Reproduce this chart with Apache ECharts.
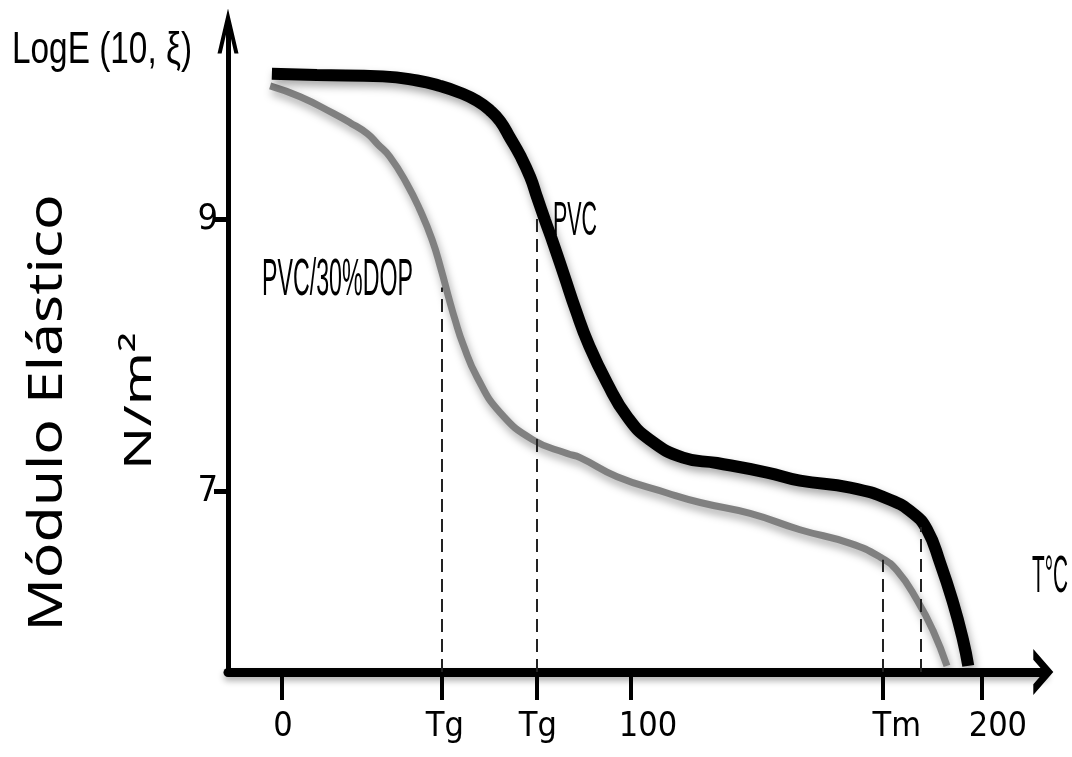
<!DOCTYPE html>
<html>
<head>
<meta charset="utf-8">
<script src="https://cdn.jsdelivr.net/npm/echarts@6/dist/echarts.min.js"></script>
<style>
  html, body { margin: 0; padding: 0; background: #fff; }
  #container { width: 1072px; height: 757px; }
</style>
</head>
<body>
<div id="container"></div>
<script>
// curve samples: [T, log E]
const pvc = [
  [-2.9, 10.07], [10, 10.06], [28.9, 10.05], [38.7, 10.02], [45.3, 9.98], [51, 9.93],
  [55.9, 9.87], [59.6, 9.8], [62.5, 9.72], [65.3, 9.6], [68.2, 9.47], [71.1, 9.31],
  [73.1, 9.16], [75.4, 8.99], [77.9, 8.81], [80.8, 8.59], [84.2, 8.33], [87.7, 8.09],
  [93.1, 7.8], [98.9, 7.55], [105.4, 7.38], [114.9, 7.25], [124.6, 7.21], [139, 7.14],
  [148.4, 7.08], [162.8, 7.03], [174.2, 6.94], [180.8, 6.84], [184.8, 6.72], [188.5, 6.48],
  [192.3, 6.18], [195.1, 5.91], [196.6, 5.72]
];
const pvcDop = [
  [-3.4, 9.98], [5.2, 9.9], [14.6, 9.78], [19.5, 9.71], [24.4, 9.63], [27.5, 9.55],
  [30.9, 9.46], [35.8, 9.26], [39.5, 9.07], [43, 8.85], [45.6, 8.63], [47.6, 8.44],
  [49.6, 8.26], [51.9, 8.08], [55.9, 7.84], [62.5, 7.58], [71.9, 7.38], [81.7, 7.28],
  [85.4, 7.25], [96, 7.11], [110.3, 6.99], [119.8, 6.92], [134.1, 6.84], [148.4, 6.72],
  [162.8, 6.62], [171.3, 6.52], [176.2, 6.42], [182, 6.2], [186.5, 5.98], [190.5, 5.72]
];

const xTickValues = [0, 45.8, 73, 100, 172.1, 200.5];
const xTickLabels = ['0', 'Tg', 'Tg', '100', 'Tm', '200'];
const yTickValues = [7, 9];

// dashed guides: [T, top of the dash]
const pvcGuides = [[73, 9.02], [183.1, 6.74]];
const dopGuides = [[45.8, 8.5], [172.1, 6.5]];

const X_MIN = -15.47, X_MAX = 218.3;
const Y_MIN = 5.675, Y_MAX = 10.42;
const PX_PER_T = 3.49;

// labels in the picture sit with their first glyph on the tick
const labelShiftPx = [1, 3, 1, 17, 14, 16];
const xLabelValues = xTickValues.map((v, i) => +(v + labelShiftPx[i] / PX_PER_T).toFixed(2));

const narrow = '"DejaVu Sans Condensed", "Liberation Sans Narrow", sans-serif';

// open chevron arrows (pointing up, rotated by echarts)
const xArrow = 'path://M23,0 L46,20 L35.3,20 L23,9.3 L10.7,20 L0,20 Z';
const yArrow = 'path://M10.5,0 L21,45 L16.9,45 L10.5,17.6 L4.1,45 L0,45 Z';

const ctx = document.createElement('canvas').getContext('2d');
function stretch(text, font, width) {
  ctx.font = font;
  return width / ctx.measureText(text).width;
}
function label(text, x, y, size, family, width, rotated) {
  const font = size + 'px ' + family;
  return {
    type: 'text', x: x, y: y, silent: true,
    rotation: rotated ? Math.PI / 2 : 0,
    scaleX: stretch(text, font, width),
    style: {
      text: text, font: font, fill: '#000',
      align: rotated ? 'center' : 'left', verticalAlign: 'middle'
    }
  };
}

function guides(list) {
  return list.map(g => [{ coord: [g[0], Y_MIN] }, { coord: [g[0], g[1]] }]);
}

const shadow = { shadowColor: 'rgba(0,0,0,0.35)', shadowBlur: 8, shadowOffsetX: 2, shadowOffsetY: 5 };

let myChart = echarts.init(document.getElementById('container'));
let option = {
  animation: false,
  backgroundColor: '#fff',
  grid: { left: 228, right: 28, top: 26, bottom: 85 },
  xAxis: {
    type: 'value',
    min: X_MIN,
    max: X_MAX,
    splitLine: { show: false },
    axisLine: {
      onZero: false,
      symbol: ['none', xArrow],
      symbolSize: [46, 20],
      symbolOffset: [0, -0.7],
      lineStyle: { color: '#000', width: 9, shadowColor: 'rgba(0,0,0,0.3)', shadowBlur: 6, shadowOffsetY: 4 }
    },
    axisTick: { customValues: xTickValues, length: 28, lineStyle: { color: '#000', width: 4 } },
    axisLabel: {
      customValues: xLabelValues,
      margin: 38,
      color: '#000',
      fontSize: 34,
      fontFamily: narrow,
      formatter: function (v) {
        let i = xLabelValues.findIndex(t => Math.abs(t - v) < 0.01);
        return i < 0 ? '' : xTickLabels[i];
      }
    }
  },
  yAxis: {
    type: 'value',
    min: Y_MIN,
    max: Y_MAX,
    splitLine: { show: false },
    axisLine: {
      onZero: false,
      symbol: ['none', yArrow],
      symbolSize: [21, 45],
      symbolOffset: [0, -4.9],
      lineStyle: { color: '#000', width: 5 }
    },
    axisTick: { customValues: yTickValues, length: 14, lineStyle: { color: '#000', width: 5 } },
    axisLabel: {
      customValues: yTickValues,
      margin: 10,
      color: '#000',
      fontSize: 36,
      fontFamily: narrow
    }
  },
  series: [
    {
      name: 'PVC/30%DOP',
      type: 'line',
      data: pvcDop,
      smooth: 0.5,
      showSymbol: false,
      lineStyle: Object.assign({ color: '#808080', width: 7 }, shadow),
      markLine: {
        silent: true,
        symbol: ['none', 'none'],
        label: { show: false },
        lineStyle: { color: '#222', width: 2, type: [13, 7] },
        data: guides(dopGuides)
      }
    },
    {
      name: 'PVC',
      type: 'line',
      data: pvc,
      smooth: 0.5,
      showSymbol: false,
      lineStyle: Object.assign({ color: '#000', width: 12 }, shadow),
      markLine: {
        silent: true,
        symbol: ['none', 'none'],
        label: { show: false },
        lineStyle: { color: '#222', width: 2, type: [13, 7] },
        data: guides(pvcGuides)
      }
    }
  ],
  graphic: [
    label('LogE (10, ξ)', 12, 51, 44, '"Liberation Sans", sans-serif', 180),
    label('PVC/30%DOP', 262, 281, 52, '"Liberation Sans", sans-serif', 151),
    label('PVC', 553, 222, 48, '"Liberation Sans", sans-serif', 44),
    label('T°C', 1032, 578, 52, '"Liberation Sans", sans-serif', 36),
    label('Módulo Elástico', 49, 413, 47, '"Noto Sans", sans-serif', 437, true),
    label('N/m²', 140, 401, 38, '"Noto Sans", sans-serif', 138, true)
  ]
};
myChart.setOption(option);
</script>
</body>
</html>
